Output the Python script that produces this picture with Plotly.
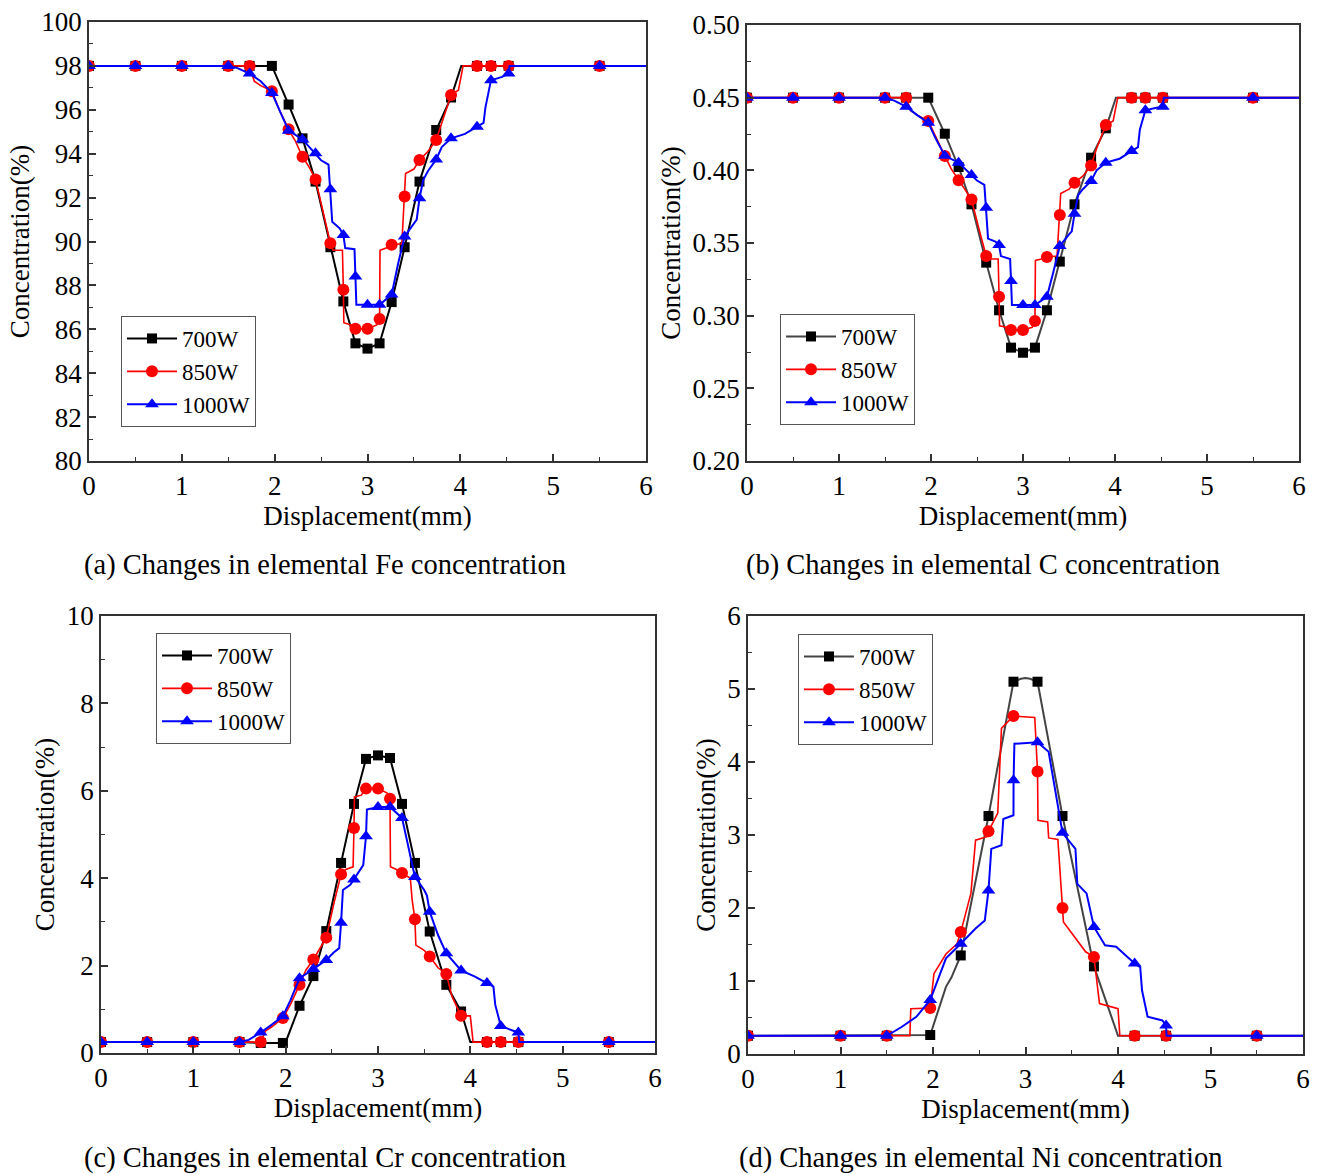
import plotly.graph_objects as go

# ---------------- DATA ----------------
series_names = ["700W", "850W", "1000W"]

# marker positions (mm)
mx = [0, 0.5, 1, 1.5, 1.73, 1.97, 2.15, 2.3, 2.44, 2.6, 2.74, 2.87, 3.0, 3.13,
      3.26, 3.4, 3.56, 3.74, 3.9, 4.18, 4.33, 4.52, 5.5]
mx_ni = [0, 1, 1.5, 1.97, 2.3, 2.6, 2.87, 3.13, 3.4, 3.74, 4.18, 4.52, 5.5]

# ---- (a) Fe ----
fe_700_m = [98, 98, 98, 98, 98, 98, 96.24, 94.7, 92.73, 89.74, 87.27, 85.36, 85.12, 85.36,
            87.24, 89.74, 92.73, 95.08, 96.56, 98, 98, 98, 98]
fe_850_m = [98, 98, 98, 98, 98, 96.85, 95.11, 93.86, 92.83, 89.92, 87.8, 86.02, 86.02, 86.47,
            89.85, 92.05, 93.71, 94.62, 96.67, 98, 98, 98, 98]
fe_1000_m = [98, 98, 98, 98, 97.65, 96.77, 95.05, 94.65, 94.02, 92.38, 90.3, 88.41, 87.12, 87.12,
             87.58, 90.23, 91.97, 93.74, 94.7, 95.23, 97.35, 97.65, 98]
fe_700_lx = [0, 1.97, 2.15, 2.3, 2.44, 2.6, 2.74, 2.87, 3.0, 3.13, 3.26, 3.4, 3.56, 3.74, 3.9, 4.01, 6]
fe_700_ly = [98, 98, 96.24, 94.7, 92.73, 89.74, 87.27, 85.36, 85.12, 85.36, 87.24, 89.74, 92.73,
             95.08, 96.56, 98, 98]
fe_850_lx = [0, 1.73, 1.78, 1.85, 1.97, 2.05, 2.15, 2.22, 2.3, 2.37, 2.44, 2.52, 2.6, 2.63, 2.73,
             2.74, 2.745, 2.82, 2.87, 3.0, 3.1, 3.13, 3.135, 3.2, 3.26, 3.37, 3.4, 3.41, 3.5, 3.56,
             3.65, 3.74, 3.8, 3.9, 3.98, 4.03, 6]
fe_850_ly = [98, 98, 97.3, 97.1, 96.85, 96.0, 95.11, 94.6, 93.86, 93.4, 92.83, 91.3, 89.92, 89.6,
             89.6, 87.8, 86.3, 86.2, 86.02, 86.02, 86.2, 86.47, 89.6, 89.7, 89.85, 89.9, 92.05,
             93.1, 93.3, 93.71, 94.1, 94.62, 95.4, 96.67, 96.9, 98, 98]
fe_1000_lx = [0, 1.5, 1.6, 1.73, 1.85, 1.97, 2.05, 2.15, 2.3, 2.44, 2.5, 2.58, 2.6, 2.62, 2.7, 2.74,
              2.76, 2.86, 2.87, 2.88, 3.0, 3.13, 3.26, 3.33, 3.4, 3.5, 3.53, 3.56, 3.6, 3.65, 3.74,
              3.8, 3.9, 4.05, 4.18, 4.25, 4.27, 4.33, 4.45, 4.52, 4.53, 6]
fe_1000_ly = [98, 98, 97.9, 97.65, 97.3, 96.77, 96.0, 95.05, 94.65, 94.02, 93.7, 93.5, 92.38, 90.9,
              90.6, 90.3, 89.7, 89.65, 88.41, 87.12, 87.12, 87.12, 87.58, 89.0, 90.23, 90.8, 91.0,
              91.97, 92.8, 93.2, 93.74, 94.3, 94.7, 94.9, 95.23, 95.4, 96.1, 97.35, 97.5, 97.65,
              98, 98]

# ---- (b) C ----
c_700_m = [0.45, 0.45, 0.45, 0.45, 0.45, 0.45, 0.4252, 0.4023, 0.3766, 0.3365, 0.3037, 0.278,
           0.2745, 0.278, 0.3037, 0.3372, 0.3766, 0.4087, 0.4289, 0.45, 0.45, 0.45, 0.45]
c_850_m = [0.45, 0.45, 0.45, 0.45, 0.45, 0.434, 0.4099, 0.3931, 0.38, 0.341, 0.313, 0.2901,
           0.2901, 0.2963, 0.3404, 0.3693, 0.3915, 0.4034, 0.4312, 0.45, 0.45, 0.45, 0.45]
c_1000_m = [0.45, 0.45, 0.45, 0.45, 0.4438, 0.4328, 0.41, 0.4053, 0.3968, 0.3743, 0.3486, 0.3239,
            0.3073, 0.3073, 0.313, 0.3479, 0.3702, 0.3927, 0.4053, 0.4133, 0.4413, 0.4438, 0.45]
c_700_lx = [0, 1.97, 2.15, 2.3, 2.44, 2.6, 2.74, 2.87, 3.0, 3.13, 3.26, 3.4, 3.56, 3.74, 3.9, 4.01, 6]
c_700_ly = [0.45, 0.45, 0.4252, 0.4023, 0.3766, 0.3365, 0.3037, 0.278, 0.2745, 0.278, 0.3037,
            0.3372, 0.3766, 0.4087, 0.4289, 0.45, 0.45]
c_850_lx = [0, 1.73, 1.78, 1.85, 1.97, 2.05, 2.15, 2.22, 2.3, 2.37, 2.44, 2.52, 2.6, 2.63, 2.73,
            2.74, 2.745, 2.82, 2.87, 3.0, 3.1, 3.13, 3.135, 3.2, 3.26, 3.37, 3.4, 3.41, 3.5, 3.56,
            3.65, 3.74, 3.8, 3.9, 3.98, 4.03, 6]
c_850_ly = [0.45, 0.45, 0.441, 0.438, 0.434, 0.423, 0.4099, 0.401, 0.3931, 0.387, 0.38, 0.36,
            0.341, 0.339, 0.339, 0.313, 0.293, 0.292, 0.2901, 0.2901, 0.292, 0.2963, 0.338, 0.339,
            0.3404, 0.341, 0.3693, 0.384, 0.387, 0.3915, 0.396, 0.4034, 0.415, 0.4312, 0.434,
            0.45, 0.45]
c_1000_lx = [0, 1.5, 1.6, 1.73, 1.85, 1.97, 2.05, 2.15, 2.3, 2.44, 2.5, 2.58, 2.6, 2.62, 2.7, 2.74,
             2.76, 2.86, 2.87, 2.88, 3.13, 3.26, 3.33, 3.4, 3.5, 3.53, 3.56, 3.6, 3.65, 3.74, 3.8,
             3.9, 4.05, 4.18, 4.25, 4.27, 4.33, 4.45, 4.52, 4.53, 6]
c_1000_ly = [0.45, 0.45, 0.448, 0.4438, 0.438, 0.4328, 0.422, 0.41, 0.4053, 0.3968, 0.393, 0.39,
             0.3743, 0.353, 0.351, 0.3486, 0.341, 0.339, 0.3239, 0.3073, 0.3073, 0.313, 0.33,
             0.3479, 0.356, 0.358, 0.3702, 0.383, 0.387, 0.3927, 0.4, 0.4053, 0.408, 0.4133,
             0.416, 0.428, 0.4413, 0.443, 0.4438, 0.45, 0.45]

# ---- (c) Cr ----
cr_700_m = [0.25, 0.25, 0.25, 0.25, 0.23, 0.23, 1.08, 1.76, 2.79, 4.35, 5.70, 6.73, 6.81, 6.75,
            5.70, 4.35, 2.78, 1.56, 0.95, 0.25, 0.25, 0.25, 0.25]
cr_850_m = [0.25, 0.25, 0.25, 0.25, 0.25, 0.80, 1.56, 2.14, 2.64, 4.09, 5.15, 6.05, 6.05, 5.82,
            4.12, 3.06, 2.21, 1.81, 0.85, 0.25, 0.25, 0.25, 0.25]
cr_1000_m = [0.25, 0.25, 0.25, 0.25, 0.47, 0.84, 1.71, 1.92, 2.13, 2.98, 3.97, 4.96, 5.63, 5.63,
             5.38, 4.03, 3.23, 2.28, 1.89, 1.6, 0.62, 0.47, 0.25]
cr_700_lx = [0, 1.5, 1.73, 1.97, 2.0, 2.15, 2.3, 2.44, 2.6, 2.74, 2.87, 3.0, 3.13, 3.26, 3.4,
             3.56, 3.74, 3.9, 4.0, 6]
cr_700_ly = [0.25, 0.25, 0.23, 0.23, 0.25, 1.08, 1.76, 2.79, 4.35, 5.70, 6.73, 6.81, 6.75, 5.70,
             4.35, 2.78, 1.56, 0.95, 0.25, 0.25]
cr_850_lx = [0, 1.73, 1.78, 1.85, 1.97, 2.05, 2.15, 2.22, 2.3, 2.37, 2.44, 2.52, 2.6, 2.65, 2.73,
             2.74, 2.745, 2.82, 2.87, 3.0, 3.1, 3.13, 3.135, 3.2, 3.26, 3.35, 3.37, 3.4, 3.41, 3.5,
             3.56, 3.65, 3.74, 3.8, 3.9, 4.0, 4.03, 6]
cr_850_ly = [0.25, 0.25, 0.5, 0.6, 0.80, 1.1, 1.56, 1.9, 2.14, 2.4, 2.64, 3.4, 4.09, 4.2, 4.26,
             5.15, 5.86, 5.9, 6.05, 6.05, 5.95, 5.82, 4.26, 4.2, 4.12, 4.0, 3.5, 3.06, 2.47, 2.35,
             2.21, 1.95, 1.81, 1.3, 0.85, 0.85, 0.25, 0.25]
cr_1000_lx = [0, 1.5, 1.6, 1.73, 1.85, 1.97, 2.05, 2.15, 2.3, 2.44, 2.52, 2.58, 2.6, 2.62, 2.7,
              2.74, 2.84, 2.87, 2.88, 3.0, 3.13, 3.26, 3.33, 3.4, 3.5, 3.53, 3.56, 3.65, 3.74, 3.9,
              4.05, 4.18, 4.25, 4.27, 4.33, 4.45, 4.52, 4.53, 6]
cr_1000_ly = [0.25, 0.25, 0.3, 0.47, 0.65, 0.84, 1.2, 1.71, 1.92, 2.13, 2.3, 2.4, 2.98, 3.73,
              3.85, 3.97, 4.3, 4.96, 5.57, 5.63, 5.63, 5.38, 4.7, 4.03, 3.73, 3.6, 3.23, 2.7,
              2.28, 1.89, 1.75, 1.6, 1.52, 1.1, 0.62, 0.52, 0.47, 0.25, 0.25]

# ---- (d) Ni ----
ni_700_m = [0.25, 0.25, 0.25, 0.26, 1.35, 3.26, 5.10, 5.10, 3.26, 1.20, 0.25, 0.25, 0.25]
ni_850_m = [0.25, 0.25, 0.25, 0.63, 1.67, 3.05, 4.63, 3.87, 2.0, 1.33, 0.25, 0.25, 0.25]
ni_1000_m = [0.25, 0.25, 0.25, 0.74, 1.51, 2.24, 3.75, 4.27, 3.03, 1.74, 1.24, 0.39, 0.25]
ni_700_lx = [0, 1.5, 1.97, 2.14, 2.2, 2.3, 2.6, 2.87, 2.95, 3.0, 3.05, 3.13, 3.4, 3.74, 4.0, 6]
ni_700_ly = [0.25, 0.25, 0.26, 0.92, 1.05, 1.35, 3.26, 5.10, 5.14, 5.15, 5.14, 5.10, 3.26, 1.20,
             0.25, 0.25]
ni_850_lx = [0, 1.5, 1.75, 1.76, 1.97, 2.01, 2.14, 2.26, 2.3, 2.41, 2.46, 2.59, 2.6, 2.7, 2.74,
             2.87, 3.1, 3.13, 3.135, 3.24, 3.25, 3.35, 3.4, 3.41, 3.65, 3.74, 3.8, 4.0, 4.02, 6]
ni_850_ly = [0.25, 0.25, 0.25, 0.62, 0.63, 1.1, 1.37, 1.51, 1.67, 2.2, 2.93, 2.98, 3.05, 3.3,
             4.46, 4.63, 4.61, 3.87, 3.2, 3.18, 2.96, 2.94, 2.0, 1.81, 1.4, 1.33, 0.69, 0.62,
             0.25, 0.25]
ni_1000_lx = [0, 1.5, 1.66, 1.82, 1.97, 2.14, 2.3, 2.46, 2.56, 2.6, 2.63, 2.74, 2.76, 2.87,
              2.871, 2.88, 3.13, 3.25, 3.4, 3.54, 3.56, 3.66, 3.74, 3.86, 3.98, 4.18, 4.24, 4.26,
              4.32, 4.48, 4.52, 4.525, 6]
ni_1000_ly = [0.25, 0.25, 0.37, 0.51, 0.74, 1.31, 1.51, 1.72, 1.83, 2.24, 2.81, 2.86, 3.22, 3.27,
              3.75, 4.25, 4.27, 4.14, 3.03, 2.81, 2.33, 2.2, 1.74, 1.49, 1.47, 1.24, 1.19, 0.87,
              0.51, 0.46, 0.39, 0.25, 0.25]

captions = ["(a) Changes in elemental Fe concentration",
            "(b) Changes in elemental C concentration",
            "(c) Changes in elemental Cr concentration",
            "(d) Changes in elemental Ni concentration"]

# ---------------- STYLE ----------------
W, H = 1320, 1174
FONT = "Liberation Serif, Times New Roman, serif"
AX = "#333333"
styles = {
    "700W": dict(color="black", symbol="square", size=10, width=2.0),
    "850W": dict(color="#ff0000", symbol="circle", size=12, width=1.6),
    "1000W": dict(color="#0000ff", symbol="triangle-up", size=12, width=2.0),
}

panels = [
    dict(mx=mx, data=[(fe_700_lx, fe_700_ly, fe_700_m), (fe_850_lx, fe_850_ly, fe_850_m),
                      (fe_1000_lx, fe_1000_ly, fe_1000_m)],
         px=(89, 646), py=(22, 461), yr=(80, 100), dt=2, mdt=1, fmt="", black="black",
         leg=(121, 316), cap=(325, 565)),
    dict(mx=mx, data=[(c_700_lx, c_700_ly, c_700_m), (c_850_lx, c_850_ly, c_850_m),
                      (c_1000_lx, c_1000_ly, c_1000_m)],
         px=(747, 1299), py=(25, 461), yr=(0.2, 0.5), dt=0.05, mdt=0.025, fmt=".2f",
         black="#444444", leg=(780, 314), cap=(983, 565)),
    dict(mx=mx, data=[(cr_700_lx, cr_700_ly, cr_700_m), (cr_850_lx, cr_850_ly, cr_850_m),
                      (cr_1000_lx, cr_1000_ly, cr_1000_m)],
         px=(101, 655), py=(616, 1053), yr=(0, 10), dt=2, mdt=1, fmt="", black="black",
         leg=(156, 633), cap=(325, 1158)),
    dict(mx=mx_ni, data=[(ni_700_lx, ni_700_ly, ni_700_m), (ni_850_lx, ni_850_ly, ni_850_m),
                         (ni_1000_lx, ni_1000_ly, ni_1000_m)],
         px=(748, 1303), py=(616, 1054), yr=(0, 6), dt=1, mdt=0.5, fmt="", black="#444444",
         leg=(798, 634), cap=(981, 1158)),
]

fig = go.Figure()
layout = dict(width=W, height=H, margin=dict(l=0, r=0, t=0, b=0, autoexpand=False),
              paper_bgcolor="white", plot_bgcolor="white",
              font=dict(family=FONT, size=27, color="black"), annotations=[])

for i, p in enumerate(panels):
    n = "" if i == 0 else str(i + 1)
    xa, ya = "x" + n, "y" + n
    legname = "legend" + n
    for (lx, ly, my), name in zip(p["data"], series_names):
        s = styles[name]
        lcol = p["black"] if name == "700W" else s["color"]
        fig.add_trace(go.Scatter(x=lx, y=ly, mode="lines", xaxis=xa, yaxis=ya,
                                 line=dict(color=lcol, width=s["width"]),
                                 showlegend=False, hoverinfo="skip"))
        fig.add_trace(go.Scatter(x=p["mx"], y=my, mode="markers", xaxis=xa, yaxis=ya,
                                 marker=dict(color=s["color"], symbol=s["symbol"], size=s["size"]),
                                 showlegend=False))
        fig.add_trace(go.Scatter(x=[None], y=[None], mode="lines+markers", name=name,
                                 xaxis=xa, yaxis=ya, legend=legname,
                                 line=dict(color=lcol, width=s["width"]),
                                 marker=dict(color=s["color"], symbol=s["symbol"], size=s["size"])))
    common = dict(showline=True, mirror=True, linecolor=AX, linewidth=1.5, ticks="inside",
                  ticklen=7, tickwidth=1.5, tickcolor=AX, showgrid=False, zeroline=False,
                  automargin=False,
                  tickfont=dict(family=FONT, size=27, color="black"))
    layout["xaxis" + n] = dict(common, domain=[p["px"][0] / W, p["px"][1] / W], range=[0, 6],
                               dtick=1, tick0=0, anchor=ya,
                               minor=dict(ticks="inside", ticklen=4, dtick=0.5, tickcolor=AX,
                                          tickwidth=1.2),
                               title=dict(text="Displacement(mm)", standoff=0,
                                          font=dict(family=FONT, size=27)))
    layout["yaxis" + n] = dict(common, domain=[1 - p["py"][1] / H, 1 - p["py"][0] / H],
                               range=list(p["yr"]), dtick=p["dt"], tick0=p["yr"][0],
                               tickformat=p["fmt"], anchor=xa,
                               minor=dict(ticks="inside", ticklen=4, dtick=p["mdt"],
                                          tickcolor=AX, tickwidth=1.2),
                               title=dict(text="Concentration(%)", standoff=4,
                                          font=dict(family=FONT, size=27)))
    layout[legname] = dict(x=p["leg"][0] / W, y=1 - p["leg"][1] / H, xanchor="left",
                           yanchor="top", bgcolor="white", bordercolor="#555555",
                           borderwidth=1, font=dict(family=FONT, size=23),
                           itemwidth=50, tracegroupgap=0)
    layout["annotations"].append(dict(text=captions[i], xref="paper", yref="paper",
                                      x=p["cap"][0] / W, y=1 - p["cap"][1] / H,
                                      xanchor="center", yanchor="middle", showarrow=False,
                                      font=dict(family=FONT, size=28.5, color="black")))

fig.update_layout(**layout)
fig.write_html("out.html")
